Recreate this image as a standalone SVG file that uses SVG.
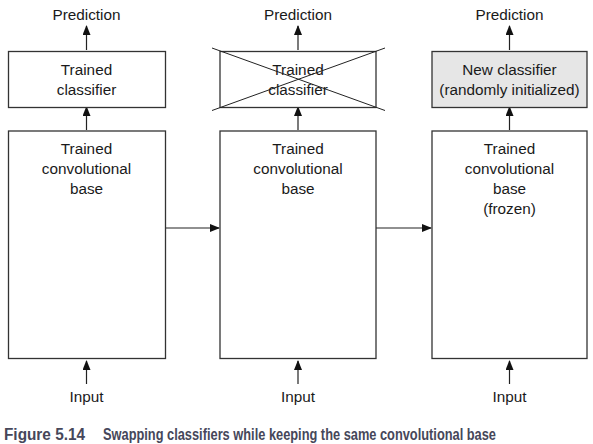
<svg xmlns="http://www.w3.org/2000/svg" width="593" height="444" viewBox="0 0 593 444">
<defs>
<marker id="ah" markerWidth="10" markerHeight="8" refX="9" refY="4" orient="auto" markerUnits="userSpaceOnUse">
<path d="M0,0 L10,4 L0,8 Z" fill="#111"/>
</marker>
</defs>
<style>
.box{fill:#fff;stroke:#333;stroke-width:1.3}
.gray{fill:#e6e6e6}
.t{font-family:"Liberation Sans",Arial,sans-serif;font-size:15.3px;fill:#1a1a1a;text-anchor:middle}
.c{stroke:#222;stroke-width:1.2;fill:none;marker-end:url(#ah)}
.x{stroke:#222;stroke-width:1}
.cap{font-family:"Liberation Sans",Arial,sans-serif;font-size:16px;font-weight:bold;fill:#46475a}
</style>
<rect width="593" height="444" fill="#fff"/>
<g id="connectors">
<line class="c" x1="86.5" y1="50" x2="86.5" y2="26"/>
<line class="c" x1="86.5" y1="130" x2="86.5" y2="107"/>
<line class="c" x1="86.5" y1="384" x2="86.5" y2="361"/>
<line class="c" x1="298" y1="50" x2="298" y2="26"/>
<line class="c" x1="298" y1="130" x2="298" y2="107"/>
<line class="c" x1="298" y1="384" x2="298" y2="361"/>
<line class="c" x1="509.5" y1="50" x2="509.5" y2="26"/>
<line class="c" x1="509.5" y1="130" x2="509.5" y2="107"/>
<line class="c" x1="509.5" y1="384" x2="509.5" y2="361"/>
<line class="c" x1="165" y1="228" x2="219" y2="228"/>
<line class="c" x1="376" y1="228" x2="431" y2="228"/>
</g>
<g id="pred1"><text class="t" x="86.5" y="20">Prediction</text></g>
<g id="pred2"><text class="t" x="298" y="20">Prediction</text></g>
<g id="pred3"><text class="t" x="509.5" y="20">Prediction</text></g>
<g id="classifier1">
<rect class="box" x="8.5" y="51.5" width="157" height="56"/>
<text class="t" x="86.5" y="75">Trained</text>
<text class="t" x="86.5" y="95">classifier</text>
</g>
<g id="classifier2">
<rect class="box" x="220" y="51.5" width="156" height="56"/>
<text class="t" x="298" y="75">Trained</text>
<text class="t" x="298" y="95">classifier</text>
<line class="x" x1="212" y1="48" x2="385" y2="110.5"/>
<line class="x" x1="212" y1="110.5" x2="385" y2="48"/>
</g>
<g id="classifier3">
<rect class="box gray" x="432" y="51.5" width="155" height="56"/>
<text class="t" x="509.5" y="75">New classifier</text>
<text class="t" x="509.5" y="95">(randomly initialized)</text>
</g>
<g id="base1">
<rect class="box" x="8.5" y="131" width="157" height="227.5"/>
<text class="t" x="86.5" y="154">Trained</text>
<text class="t" x="86.5" y="174">convolutional</text>
<text class="t" x="86.5" y="194">base</text>
</g>
<g id="base2">
<rect class="box" x="220" y="131" width="156" height="227.5"/>
<text class="t" x="298" y="154">Trained</text>
<text class="t" x="298" y="174">convolutional</text>
<text class="t" x="298" y="194">base</text>
</g>
<g id="base3">
<rect class="box" x="432" y="131" width="155" height="227.5"/>
<text class="t" x="509.5" y="154">Trained</text>
<text class="t" x="509.5" y="174">convolutional</text>
<text class="t" x="509.5" y="194">base</text>
<text class="t" x="509.5" y="214">(frozen)</text>
</g>
<g id="input1"><text class="t" x="86.5" y="402">Input</text></g>
<g id="input2"><text class="t" x="298" y="402">Input</text></g>
<g id="input3"><text class="t" x="509.5" y="402">Input</text></g>
<g id="caption">
<text class="cap" x="4" y="440" textLength="81" lengthAdjust="spacingAndGlyphs">Figure 5.14</text>
<text class="cap" x="103" y="440" textLength="393" lengthAdjust="spacingAndGlyphs">Swapping classifiers while keeping the same convolutional base</text>
</g>
</svg>
